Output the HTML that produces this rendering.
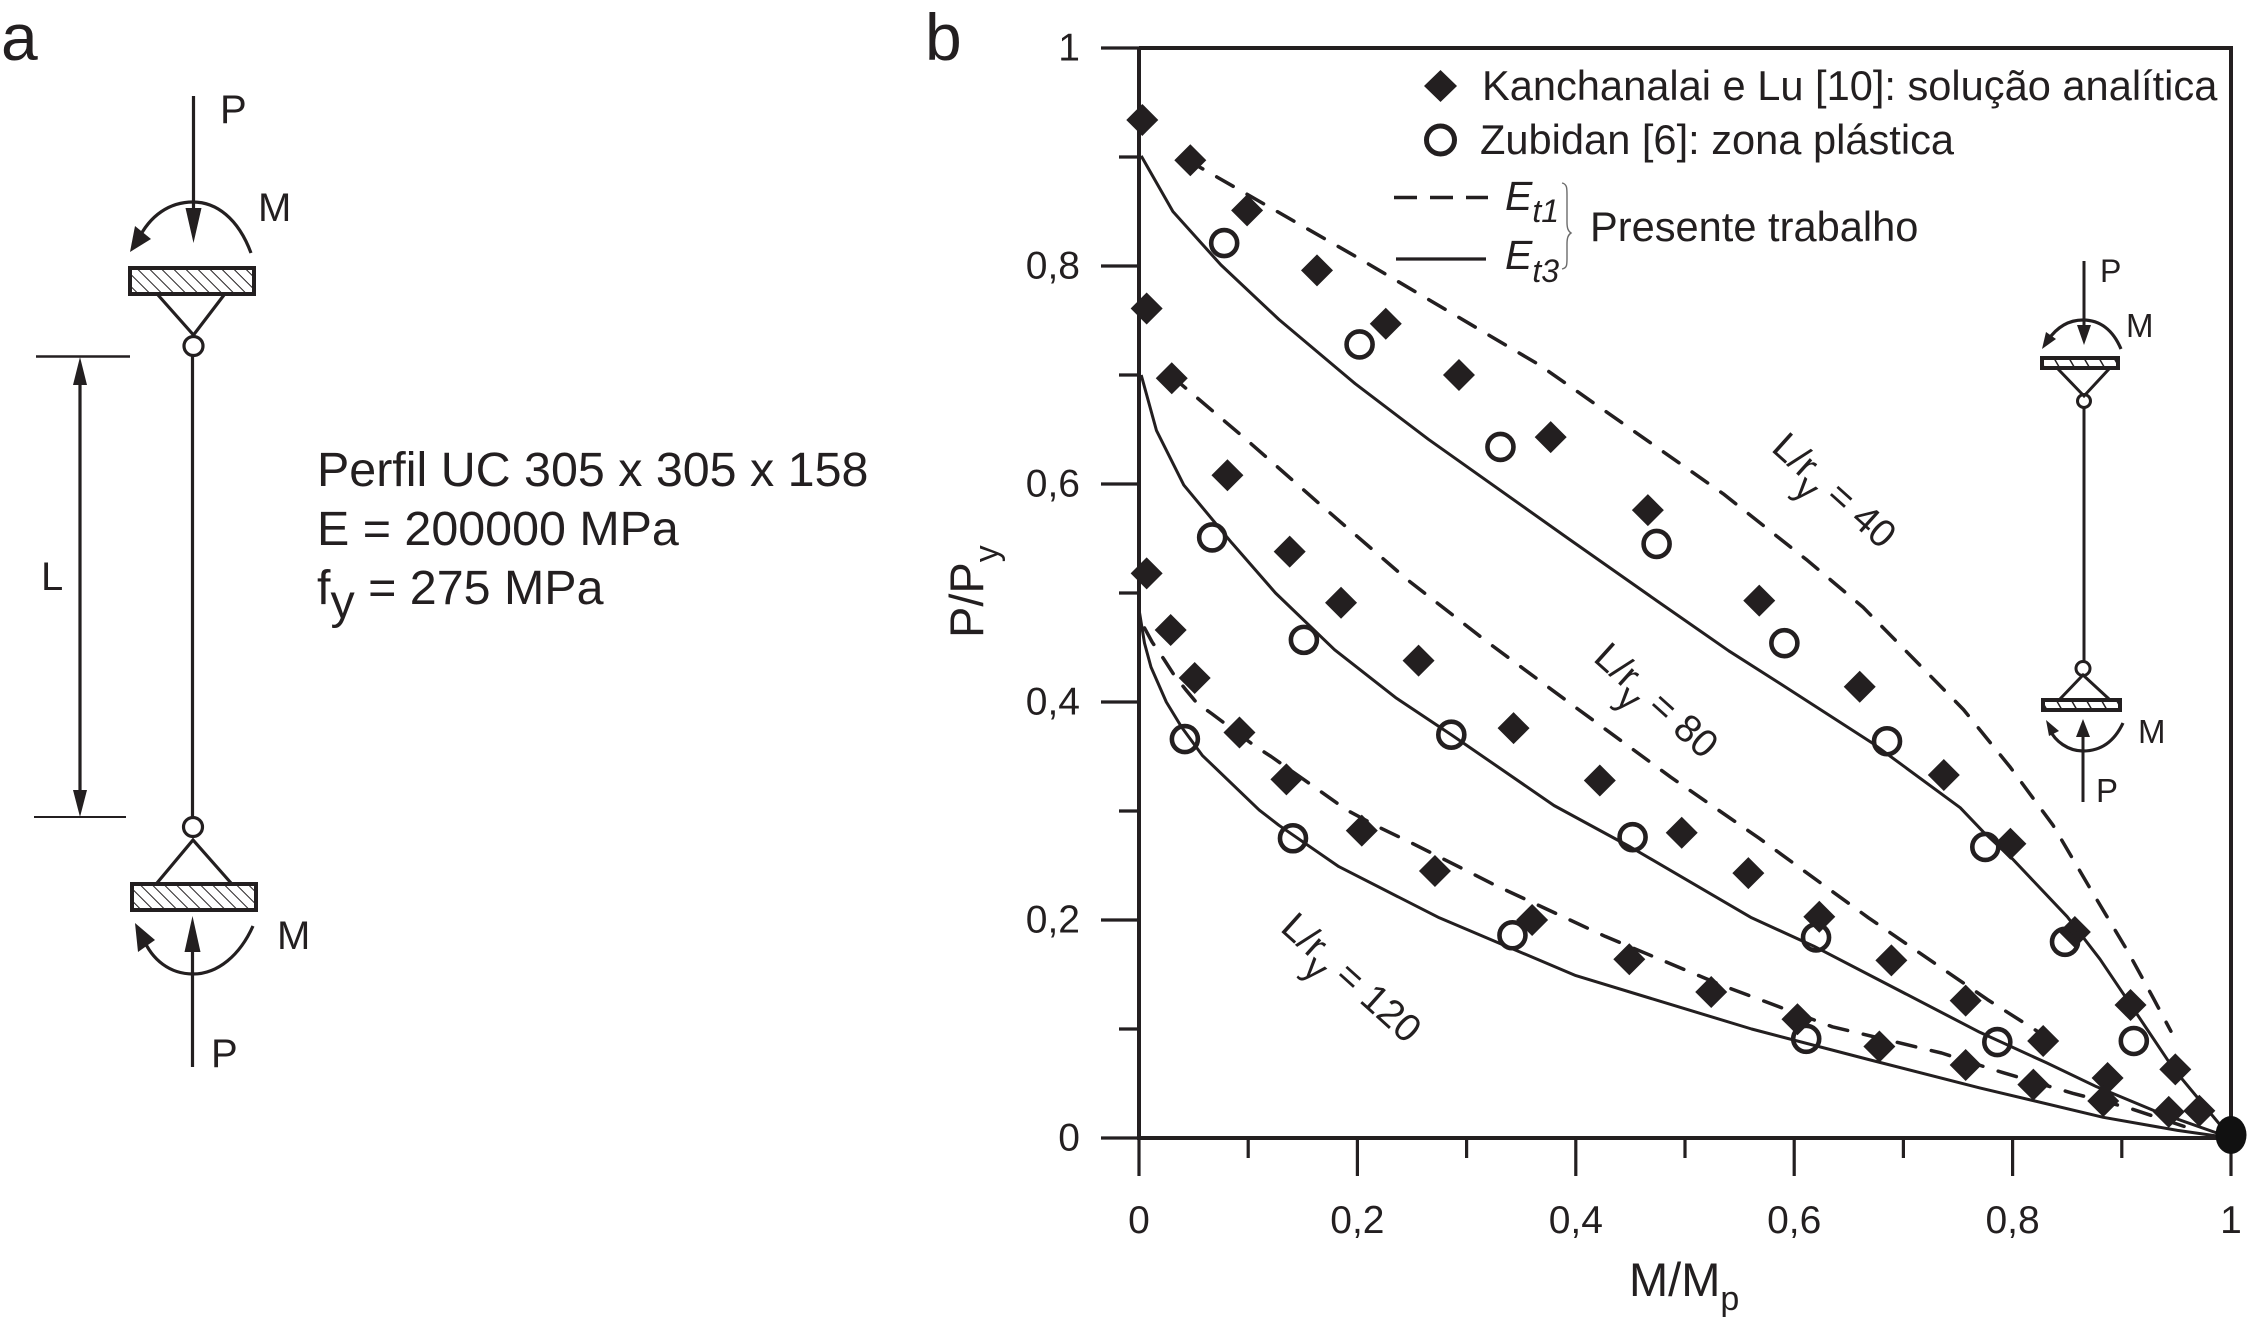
<!DOCTYPE html>
<html lang="pt">
<head>
<meta charset="utf-8">
<title>Curvas de interacao P/Py e M/Mp</title>
<style>
html,body{margin:0;padding:0;background:#fff;}
svg{display:block;}
text{font-family:"Liberation Sans",sans-serif;fill:#231f20;}
</style>
</head>
<body>
<svg id="fig" xmlns="http://www.w3.org/2000/svg" width="2247" height="1332" viewBox="0 0 2247 1332">
<defs>
<pattern id="hatch" width="8.5" height="8.5" patternUnits="userSpaceOnUse" patternTransform="rotate(-45)">
<line x1="0" y1="0" x2="0" y2="8.5" stroke="#231f20" stroke-width="2"/>
</pattern>
<pattern id="hatch2" width="13" height="13" patternUnits="userSpaceOnUse" patternTransform="rotate(-30)">
<line x1="0" y1="0" x2="0" y2="13" stroke="#231f20" stroke-width="3"/>
</pattern>
</defs>
<rect width="2247" height="1332" fill="#fff"/>

<g fill="none" stroke="#231f20" stroke-width="3.2">
<text x="1" y="60" font-size="66" stroke="none">a</text>
<line x1="193.5" y1="96" x2="193.5" y2="215"/>
<polygon points="193.5,243 185.5,208 201.5,208" fill="#231f20" stroke="none"/>
<text x="220" y="123" font-size="40" stroke="none">P</text>
<path d="M251,253 C238,218 216,202 193,202 C170,202 150,215 138,240"/>
<polygon points="130,252 135,226 151,239" fill="#231f20" stroke="none"/>
<text x="258" y="221" font-size="40" stroke="none">M</text>
<rect x="130" y="268" width="124" height="26" fill="url(#hatch)" stroke-width="4"/>
<polyline points="158,295 193.5,335 224,295"/>
<circle cx="193.5" cy="346" r="9.5"/>
<line x1="192.5" y1="356" x2="192.5" y2="817"/>
<circle cx="193" cy="827" r="9.5"/>
<polyline points="157,883 193,840 231,883"/>
<rect x="132" y="884" width="124" height="26" fill="url(#hatch)" stroke-width="4"/>
<path d="M253,926 C240,955 218,974 193,974 C170,974 152,960 143,938"/>
<polygon points="135,923 155,940 138,952" fill="#231f20" stroke="none"/>
<text x="277" y="949" font-size="40" stroke="none">M</text>
<line x1="192.5" y1="945" x2="192.5" y2="1067"/>
<polygon points="192.5,916 184.5,952 200.5,952" fill="#231f20" stroke="none"/>
<text x="211" y="1067" font-size="40" stroke="none">P</text>
<line x1="36" y1="356.5" x2="130" y2="356.5" stroke-width="2.6"/>
<line x1="34" y1="817" x2="126" y2="817" stroke-width="2"/>
<line x1="80" y1="380" x2="80" y2="795"/>
<polygon points="80,357 73,385 87,385" fill="#231f20" stroke="none"/>
<polygon points="80,817 73,790 87,790" fill="#231f20" stroke="none"/>
<text x="41" y="590" font-size="40" stroke="none">L</text>
<text x="317" y="486" font-size="48.4" stroke="none">Perfil UC 305 x 305 x 158</text>
<text x="317" y="545" font-size="48.4" stroke="none">E = 200000 MPa</text>
<text x="317" y="604" font-size="48.4" stroke="none">f<tspan dy="14">y</tspan><tspan dy="-14"> = 275 MPa</tspan></text>
</g>

<text x="925" y="60" font-size="66">b</text>
<g id="plot"></g>

<g>
<polygon points="1440.5,70 1457,86 1440.5,102 1424,86" fill="#231f20"/>
<text x="1482" y="100" font-size="41.6">Kanchanalai e Lu [10]: solução analítica</text>
<circle cx="1440.5" cy="140" r="14" fill="none" stroke="#231f20" stroke-width="5"/>
<text x="1480" y="154" font-size="41.6" textLength="474" lengthAdjust="spacing">Zubidan [6]: zona plástica</text>
<line x1="1394" y1="197.5" x2="1488" y2="197.5" stroke="#231f20" stroke-width="3.6" stroke-dasharray="23 13"/>
<line x1="1396" y1="259" x2="1486" y2="259" stroke="#231f20" stroke-width="3.2"/>
<text x="1505" y="210" font-size="41" font-style="italic">E<tspan dy="12" font-size="32">t1</tspan></text>
<text x="1505" y="269" font-size="41" font-style="italic">E<tspan dy="13" font-size="32">t3</tspan></text>
<path d="M1562,183 C1567,184 1567,188 1567,195 L1567,222 C1567,228 1568,231 1571,233 C1568,235 1567,238 1567,244 L1567,258 C1567,265 1567,268 1562,269" fill="none" stroke="#6b6b6b" stroke-width="1.4"/>
<text x="1590" y="241" font-size="41.6">Presente trabalho</text>
</g>

<g fill="none" stroke="#231f20" stroke-width="3">
<line x1="2084" y1="261" x2="2084" y2="325"/>
<polygon points="2084,345 2077,325 2091,325" fill="#231f20" stroke="none"/>
<text x="2100" y="282" font-size="32" stroke="none">P</text>
<path d="M2121,349 C2113,330 2100,320 2083,320 C2066,320 2055,330 2048,340" stroke-width="3.2"/>
<polygon points="2042,349 2046,332 2056,339" fill="#231f20" stroke="none"/>
<text x="2126" y="337" font-size="33" stroke="none">M</text>
<rect x="2042" y="358" width="76" height="10" fill="url(#hatch2)" stroke-width="4"/>
<polyline points="2058,369 2084,396 2109,369"/>
<circle cx="2084" cy="401" r="6.5"/>
<line x1="2084" y1="408" x2="2084" y2="661"/>
<circle cx="2083" cy="668.5" r="7"/>
<polyline points="2060,699 2083,675 2109,699"/>
<rect x="2043" y="700" width="77" height="10" fill="url(#hatch2)" stroke-width="4"/>
<path d="M2123,723 C2115,740 2102,751 2083,751 C2068,751 2055,741 2050,730" stroke-width="3.2"/>
<polygon points="2046,720 2059,731 2049,736" fill="#231f20" stroke="none"/>
<text x="2138" y="743" font-size="33" stroke="none">M</text>
<line x1="2083" y1="735" x2="2083" y2="802"/>
<polygon points="2083,719 2076,737 2090,737" fill="#231f20" stroke="none"/>
<text x="2096" y="802" font-size="33" stroke="none">P</text>
</g>

<g>
<text transform="translate(1770,450) rotate(42)" font-size="39">L/r<tspan dy="16" dx="-2" font-size="37">y</tspan><tspan dy="-16"> = 40</tspan></text>
<text transform="translate(1592,660) rotate(42)" font-size="39">L/r<tspan dy="16" dx="-2" font-size="37">y</tspan><tspan dy="-16"> = 80</tspan></text>
<text transform="translate(1279,930) rotate(42)" font-size="39">L/r<tspan dy="16" dx="-2" font-size="37">y</tspan><tspan dy="-16"> = 120</tspan></text>
</g>

<text x="1629" y="1296" font-size="47">M/M<tspan dy="14" font-size="34">p</tspan></text>
<text transform="translate(983,638) rotate(-90)" font-size="47">P/P<tspan dy="15" font-size="34">y</tspan></text>
</svg>

<script>
var xTicks = [0, 0.2, 0.4, 0.6, 0.8, 1];
var xTickLabels = ["0", "0,2", "0,4", "0,6", "0,8", "1"];
var xMinorTicks = [0.1, 0.3, 0.5, 0.7, 0.9];
var yTicks = [0, 0.2, 0.4, 0.6, 0.8, 1];
var yTickLabels = ["0", "0,2", "0,4", "0,6", "0,8", "1"];
var yMinorTicks = [0.1, 0.3, 0.5, 0.7, 0.9];

var dashed40M = [0.045, 0.055, 0.198, 0.367, 0.535, 0.612, 0.663, 0.709, 0.755, 0.798, 0.837, 0.871, 0.905, 0.929, 0.945];
var dashed40P = [0.900, 0.891, 0.809, 0.709, 0.591, 0.530, 0.487, 0.440, 0.393, 0.340, 0.287, 0.229, 0.172, 0.128, 0.098];
var solid40M = [0.002, 0.031, 0.075, 0.128, 0.198, 0.265, 0.393, 0.474, 0.540, 0.587, 0.672, 0.752, 0.773, 0.800, 0.850, 0.880, 0.907, 0.947, 1];
var solid40P = [0.901, 0.850, 0.801, 0.751, 0.692, 0.641, 0.550, 0.493, 0.447, 0.417, 0.362, 0.303, 0.281, 0.256, 0.203, 0.164, 0.124, 0.064, 0];
var dashed80M = [0.030, 0.038, 0.098, 0.165, 0.246, 0.319, 0.400, 0.487, 0.568, 0.668, 0.777, 0.821, 0.831];
var dashed80P = [0.700, 0.692, 0.641, 0.582, 0.512, 0.455, 0.395, 0.331, 0.275, 0.202, 0.127, 0.099, 0.092];
var solid80M = [0.002, 0.016, 0.041, 0.085, 0.125, 0.179, 0.235, 0.286, 0.380, 0.450, 0.561, 0.618, 0.770, 0.831, 0.877, 0.932, 1];
var solid80P = [0.700, 0.649, 0.599, 0.546, 0.500, 0.448, 0.404, 0.370, 0.305, 0.267, 0.202, 0.176, 0.097, 0.069, 0.047, 0.024, 0];
var dashed120M = [0.005, 0.012, 0.023, 0.032, 0.043, 0.053, 0.067, 0.107, 0.121, 0.162, 0.190, 0.220, 0.249, 0.326, 0.427, 0.534, 0.635, 0.735, 0.791, 0.855, 0.905, 0.932, 0.965];
var dashed120P = [0.468, 0.455, 0.439, 0.425, 0.411, 0.399, 0.389, 0.359, 0.350, 0.321, 0.301, 0.285, 0.271, 0.232, 0.185, 0.140, 0.102, 0.078, 0.060, 0.041, 0.028, 0.019, 0.008];
var solid120M = [0, 0.005, 0.011, 0.025, 0.039, 0.058, 0.110, 0.128, 0.183, 0.275, 0.400, 0.561, 0.668, 0.770, 0.883, 0.951, 1];
var solid120P = [0.485, 0.454, 0.432, 0.400, 0.377, 0.351, 0.301, 0.287, 0.249, 0.202, 0.149, 0.100, 0.072, 0.046, 0.019, 0.007, 0];

var diamond40M = [0.003, 0.047, 0.099, 0.163, 0.226, 0.293, 0.377, 0.466, 0.568, 0.660, 0.737, 0.798, 0.857, 0.908, 0.949, 0.971];
var diamond40P = [0.934, 0.897, 0.851, 0.796, 0.747, 0.700, 0.643, 0.576, 0.493, 0.414, 0.333, 0.270, 0.189, 0.122, 0.063, 0.025];
var diamond80M = [0.007, 0.030, 0.081, 0.138, 0.185, 0.256, 0.343, 0.422, 0.497, 0.558, 0.623, 0.689, 0.757, 0.828, 0.887, 0.943];
var diamond80P = [0.761, 0.697, 0.608, 0.538, 0.491, 0.438, 0.376, 0.328, 0.280, 0.243, 0.203, 0.163, 0.126, 0.089, 0.055, 0.024];
var diamond120M = [0.007, 0.029, 0.051, 0.092, 0.135, 0.204, 0.271, 0.360, 0.449, 0.524, 0.603, 0.678, 0.757, 0.819, 0.883];
var diamond120P = [0.518, 0.466, 0.422, 0.372, 0.329, 0.282, 0.245, 0.200, 0.164, 0.134, 0.109, 0.084, 0.067, 0.049, 0.034];

var circle40M = [0.078, 0.202, 0.331, 0.474, 0.591, 0.685, 0.775, 0.848, 0.911];
var circle40P = [0.821, 0.728, 0.634, 0.545, 0.454, 0.364, 0.267, 0.180, 0.089];
var circle80M = [0.067, 0.151, 0.286, 0.452, 0.620, 0.786];
var circle80P = [0.551, 0.457, 0.370, 0.276, 0.184, 0.088];
var circle120M = [0.042, 0.141, 0.342, 0.611];
var circle120P = [0.366, 0.275, 0.186, 0.091];

var NS = "http://www.w3.org/2000/svg";
var INK = "#231f20";
var plot = document.getElementById("plot");

function xScale(v) { return 1139 + v * 1092; }
function yScale(v) { return 1138 - v * 1090; }

function make(tag, attrs, parent) {
  var el = document.createElementNS(NS, tag);
  for (var k in attrs) { el.setAttribute(k, attrs[k]); }
  (parent || plot).appendChild(el);
  return el;
}

function drawCurve(ms, ps, dashed, name) {
  var pts = [];
  for (var i = 0; i < ms.length; i++) {
    pts.push(xScale(ms[i]).toFixed(1) + "," + yScale(ps[i]).toFixed(1));
  }
  var el = make("polyline", {
    points: pts.join(" "),
    fill: "none",
    stroke: INK,
    "stroke-width": dashed ? 3.5 : 3,
    "stroke-dasharray": dashed ? "19 16" : "none",
    "stroke-linejoin": "round",
    "stroke-linecap": dashed ? "round" : "butt"
  });
  
  
}

function drawDiamonds(ms, ps, name) {
  for (var i = 0; i < ms.length; i++) {
    var cx = xScale(ms[i]), cy = yScale(ps[i]), r = 16;
    var el = make("polygon", {
      points: cx + "," + (cy - r) + " " + (cx + r) + "," + cy + " " + cx + "," + (cy + r) + " " + (cx - r) + "," + cy,
      fill: INK
    });
    
    
  }
}

function drawCircles(ms, ps, name) {
  for (var i = 0; i < ms.length; i++) {
    var el = make("circle", {
      cx: xScale(ms[i]),
      cy: yScale(ps[i]),
      r: 13,
      fill: "none",
      stroke: INK,
      "stroke-width": 4.6
    });
    
    
  }
}

function drawAxes() {
  var axisAttrs = { stroke: INK, "stroke-width": 4, fill: "none" };
  var frame = make("polyline", Object.assign({ points: xScale(0) + "," + yScale(1) + " " + xScale(1) + "," + yScale(1) + " " + xScale(1) + "," + yScale(0) + " " + xScale(0) + "," + yScale(0) + " " + xScale(0) + "," + yScale(1) }, axisAttrs));
  
  
  xTicks.forEach(function (v, i) {
    var t = make("line", { x1: xScale(v), x2: xScale(v), y1: yScale(0), y2: 1176, stroke: INK, "stroke-width": 3.2 });
    
    
    var lab = make("text", { x: xScale(v), y: 1233, "font-size": 39, "text-anchor": "middle" });
    lab.textContent = xTickLabels[i];
    
    
  });
  xMinorTicks.forEach(function (v) {
    var t = make("line", { x1: xScale(v), x2: xScale(v), y1: yScale(0), y2: 1158, stroke: INK, "stroke-width": 3.2 });
    
    
  });
  yTicks.forEach(function (v, i) {
    var t = make("line", { x1: 1101, x2: xScale(0), y1: yScale(v), y2: yScale(v), stroke: INK, "stroke-width": 3.2 });
    
    
    var lab = make("text", { x: 1080, y: yScale(v) + 12.5, "font-size": 39, "text-anchor": "end" });
    lab.textContent = yTickLabels[i];
    
    
  });
  yMinorTicks.forEach(function (v) {
    var t = make("line", { x1: 1119, x2: xScale(0), y1: yScale(v), y2: yScale(v), stroke: INK, "stroke-width": 3.2 });
    
    
  });
}

drawCurve(dashed40M, dashed40P, true, "et1-curve-lr-40");
drawCurve(solid40M, solid40P, false, "et3-curve-lr-40");
drawCurve(dashed80M, dashed80P, true, "et1-curve-lr-80");
drawCurve(solid80M, solid80P, false, "et3-curve-lr-80");
drawCurve(dashed120M, dashed120P, true, "et1-curve-lr-120");
drawCurve(solid120M, solid120P, false, "et3-curve-lr-120");
drawAxes();
drawDiamonds(diamond40M, diamond40P, "kanchanalai-point-lr-40");
drawDiamonds(diamond80M, diamond80P, "kanchanalai-point-lr-80");
drawDiamonds(diamond120M, diamond120P, "kanchanalai-point-lr-120");
drawCircles(circle40M, circle40P, "zubidan-point-lr-40");
drawCircles(circle80M, circle80P, "zubidan-point-lr-80");
drawCircles(circle120M, circle120P, "zubidan-point-lr-120");

var endBlob = make("ellipse", { cx: xScale(1), cy: yScale(0) - 3, rx: 15.5, ry: 19, fill: "#111" });


</script>
</body>
</html>
